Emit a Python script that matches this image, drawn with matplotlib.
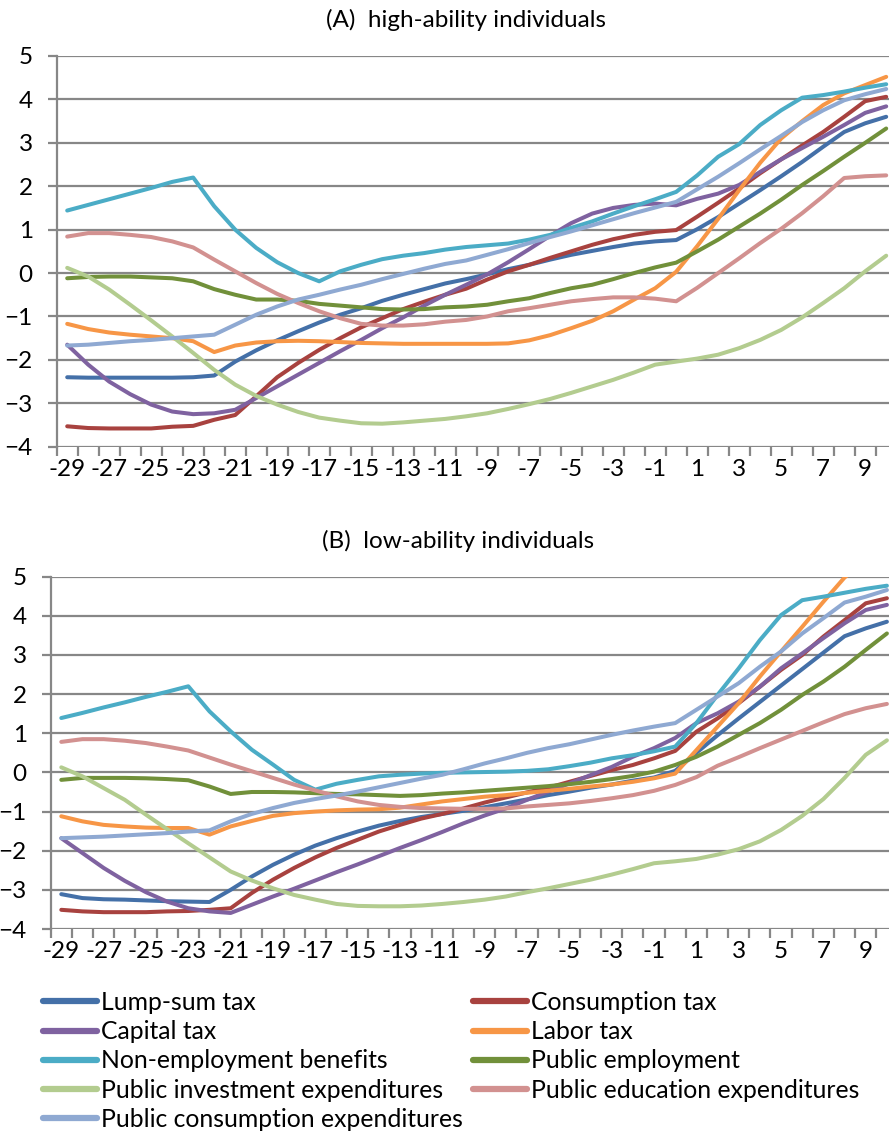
import matplotlib
matplotlib.use("Agg")
import matplotlib.pyplot as plt
import numpy as np

plt.rcParams['font.family'] = ['Lato', 'DejaVu Sans']

years = list(range(-29, 11))
tick_labels = [str(y) for y in years[::2]]

series_names = [
    "Lump-sum tax", "Consumption tax", "Capital tax", "Labor tax",
    "Non-employment benefits", "Public employment",
    "Public investment expenditures", "Public education expenditures",
    "Public consumption expenditures",
]
colors = ["#4470A8", "#A8423F", "#7F62A0", "#F79646", "#4BACC6",
          "#71903A", "#B3CC8F", "#D29190", "#8FA9D2"]

# Panel A: high-ability individuals
high_lump_sum = [-2.40, -2.41, -2.41, -2.41, -2.41, -2.41, -2.40, -2.36, -2.04, -1.78,
                 -1.55, -1.34, -1.14, -0.96, -0.81, -0.64, -0.50, -0.37, -0.24, -0.14,
                 -0.03, 0.09, 0.19, 0.31, 0.42, 0.51, 0.60, 0.68, 0.73, 0.76,
                 1.01, 1.29, 1.60, 1.91, 2.23, 2.56, 2.91, 3.25, 3.45, 3.60]
high_consumption = [-3.53, -3.57, -3.58, -3.58, -3.58, -3.54, -3.52, -3.38, -3.27, -2.84,
                    -2.40, -2.07, -1.77, -1.50, -1.25, -1.04, -0.83, -0.66, -0.50, -0.36,
                    -0.15, 0.04, 0.19, 0.35, 0.50, 0.65, 0.78, 0.88, 0.95, 0.99,
                    1.30, 1.62, 1.95, 2.30, 2.62, 2.94, 3.25, 3.60, 3.96, 4.06]
high_capital = [-1.65, -2.11, -2.50, -2.79, -3.03, -3.19, -3.25, -3.23, -3.15, -2.88,
                -2.61, -2.34, -2.07, -1.80, -1.54, -1.27, -1.02, -0.75, -0.50, -0.27,
                -0.03, 0.25, 0.55, 0.86, 1.15, 1.37, 1.50, 1.57, 1.60, 1.56,
                1.71, 1.83, 2.03, 2.33, 2.62, 2.88, 3.14, 3.41, 3.69, 3.84]
high_labor = [-1.17, -1.29, -1.37, -1.42, -1.46, -1.50, -1.57, -1.82, -1.67, -1.60,
              -1.57, -1.56, -1.57, -1.59, -1.61, -1.62, -1.63, -1.63, -1.63, -1.63,
              -1.63, -1.62, -1.55, -1.43, -1.27, -1.10, -0.88, -0.61, -0.35, 0.03,
              0.62, 1.25, 1.91, 2.54, 3.10, 3.50, 3.87, 4.14, 4.33, 4.52]
high_nonemp = [1.44, 1.57, 1.70, 1.83, 1.96, 2.10, 2.20, 1.54, 1.00, 0.58,
               0.25, 0.00, -0.19, 0.04, 0.19, 0.32, 0.40, 0.46, 0.54, 0.60,
               0.64, 0.68, 0.77, 0.88, 1.04, 1.19, 1.37, 1.54, 1.70, 1.87,
               2.25, 2.68, 2.97, 3.41, 3.75, 4.04, 4.10, 4.18, 4.27, 4.35]
high_pubemp = [-0.12, -0.09, -0.08, -0.08, -0.10, -0.12, -0.19, -0.37, -0.50, -0.61,
               -0.61, -0.64, -0.71, -0.75, -0.79, -0.83, -0.84, -0.83, -0.79, -0.77,
               -0.73, -0.65, -0.58, -0.46, -0.35, -0.27, -0.14, 0.00, 0.13, 0.24,
               0.50, 0.77, 1.07, 1.37, 1.69, 2.03, 2.35, 2.68, 3.00, 3.33]
high_pubinv = [0.12, -0.08, -0.38, -0.73, -1.09, -1.46, -1.84, -2.23, -2.57, -2.83,
               -3.03, -3.20, -3.33, -3.40, -3.46, -3.47, -3.44, -3.40, -3.36, -3.30,
               -3.23, -3.13, -3.02, -2.90, -2.76, -2.61, -2.46, -2.29, -2.11, -2.04,
               -1.97, -1.88, -1.73, -1.54, -1.31, -1.02, -0.69, -0.35, 0.04, 0.40]
high_pubedu = [0.84, 0.92, 0.92, 0.88, 0.83, 0.73, 0.59, 0.31, 0.04, -0.23,
               -0.48, -0.69, -0.88, -1.04, -1.17, -1.21, -1.21, -1.18, -1.12, -1.08,
               -1.00, -0.88, -0.81, -0.73, -0.65, -0.60, -0.56, -0.56, -0.59, -0.65,
               -0.34, 0.00, 0.34, 0.69, 1.02, 1.38, 1.77, 2.19, 2.23, 2.25]
high_pubcons = [-1.67, -1.65, -1.61, -1.57, -1.54, -1.50, -1.46, -1.42, -1.19, -0.96,
                -0.77, -0.61, -0.50, -0.38, -0.27, -0.14, -0.02, 0.10, 0.21, 0.29,
                0.42, 0.55, 0.69, 0.83, 0.96, 1.10, 1.24, 1.38, 1.51, 1.64,
                1.93, 2.22, 2.53, 2.85, 3.16, 3.48, 3.75, 3.98, 4.12, 4.24]

# Panel B: low-ability individuals
low_lump_sum = [-3.11, -3.21, -3.24, -3.25, -3.27, -3.29, -3.30, -3.31, -3.00, -2.66,
                -2.36, -2.10, -1.87, -1.68, -1.51, -1.36, -1.24, -1.14, -1.06, -0.98,
                -0.89, -0.79, -0.69, -0.58, -0.49, -0.39, -0.31, -0.21, -0.13, 0.04,
                0.50, 0.95, 1.38, 1.80, 2.22, 2.64, 3.06, 3.48, 3.68, 3.85]
low_consumption = [-3.51, -3.55, -3.57, -3.57, -3.57, -3.55, -3.54, -3.51, -3.47, -3.08,
                   -2.74, -2.44, -2.17, -1.93, -1.72, -1.51, -1.34, -1.18, -1.06, -0.92,
                   -0.77, -0.64, -0.51, -0.39, -0.24, -0.09, 0.06, 0.19, 0.36, 0.55,
                   1.04, 1.38, 1.77, 2.19, 2.62, 3.00, 3.47, 3.89, 4.32, 4.45]
low_capital = [-1.68, -2.06, -2.44, -2.77, -3.06, -3.30, -3.47, -3.55, -3.59, -3.38,
               -3.17, -2.97, -2.76, -2.55, -2.35, -2.14, -1.93, -1.73, -1.52, -1.30,
               -1.10, -0.92, -0.70, -0.49, -0.28, -0.07, 0.14, 0.40, 0.62, 0.88,
               1.26, 1.51, 1.81, 2.19, 2.66, 3.04, 3.43, 3.81, 4.15, 4.28]
low_labor = [-1.12, -1.25, -1.34, -1.38, -1.41, -1.42, -1.42, -1.59, -1.38, -1.24,
             -1.11, -1.04, -1.00, -0.97, -0.95, -0.94, -0.90, -0.82, -0.74, -0.68,
             -0.62, -0.58, -0.52, -0.47, -0.42, -0.36, -0.31, -0.24, -0.15, -0.03,
             0.57, 1.17, 1.77, 2.45, 3.09, 3.72, 4.36, 4.98, 5.40, 5.80]
low_nonemp = [1.39, 1.52, 1.66, 1.79, 1.93, 2.06, 2.20, 1.56, 1.05, 0.58,
              0.20, -0.19, -0.44, -0.29, -0.19, -0.10, -0.06, -0.03, -0.01, 0.00,
              0.01, 0.02, 0.04, 0.08, 0.16, 0.25, 0.36, 0.44, 0.54, 0.66,
              1.26, 1.98, 2.66, 3.38, 4.02, 4.40, 4.49, 4.59, 4.69, 4.77]
low_pubemp = [-0.19, -0.14, -0.14, -0.14, -0.15, -0.17, -0.20, -0.36, -0.55, -0.50,
              -0.50, -0.51, -0.53, -0.55, -0.56, -0.58, -0.60, -0.58, -0.54, -0.51,
              -0.47, -0.43, -0.39, -0.35, -0.30, -0.24, -0.17, -0.09, 0.02, 0.19,
              0.40, 0.66, 0.96, 1.26, 1.60, 1.98, 2.32, 2.70, 3.13, 3.55]
low_pubinv = [0.13, -0.10, -0.40, -0.70, -1.08, -1.45, -1.81, -2.17, -2.53, -2.76,
              -2.96, -3.13, -3.25, -3.36, -3.41, -3.42, -3.42, -3.40, -3.36, -3.31,
              -3.25, -3.17, -3.06, -2.96, -2.85, -2.74, -2.61, -2.47, -2.32, -2.27,
              -2.21, -2.10, -1.96, -1.76, -1.47, -1.11, -0.68, -0.14, 0.45, 0.82]
low_pubedu = [0.78, 0.85, 0.85, 0.81, 0.75, 0.66, 0.56, 0.38, 0.20, 0.03,
              -0.14, -0.31, -0.46, -0.61, -0.74, -0.83, -0.88, -0.91, -0.92, -0.93,
              -0.93, -0.92, -0.87, -0.83, -0.79, -0.73, -0.66, -0.58, -0.47, -0.32,
              -0.12, 0.17, 0.39, 0.62, 0.84, 1.06, 1.28, 1.49, 1.64, 1.75]
low_pubcons = [-1.68, -1.66, -1.64, -1.61, -1.58, -1.55, -1.51, -1.48, -1.25, -1.06,
               -0.91, -0.78, -0.68, -0.59, -0.49, -0.38, -0.27, -0.16, -0.06, 0.08,
               0.23, 0.36, 0.50, 0.62, 0.72, 0.84, 0.96, 1.07, 1.17, 1.26,
               1.60, 1.94, 2.28, 2.70, 3.09, 3.55, 3.94, 4.34, 4.49, 4.66]

high = [high_lump_sum, high_consumption, high_capital, high_labor, high_nonemp,
        high_pubemp, high_pubinv, high_pubedu, high_pubcons]
low = [low_lump_sum, low_consumption, low_capital, low_labor, low_nonemp,
       low_pubemp, low_pubinv, low_pubedu, low_pubcons]

W, H = 889, 1133
fig = plt.figure(figsize=(W / 100, H / 100), dpi=100)

GRID = "#878787"
FS = 17.5


def setup(ax):
    x = np.arange(len(years))
    ax.set_xlim(-0.5, len(years) - 0.5)
    ax.set_ylim(-4, 5)
    ax.set_yticks(range(-4, 6))
    ax.yaxis.grid(True, color=GRID, linewidth=1.6)
    ax.set_axisbelow(True)
    for s in ["top", "right", "bottom"]:
        ax.spines[s].set_visible(False)
    ax.spines["left"].set_color(GRID)
    ax.spines["left"].set_linewidth(1.6)
    ax.tick_params(axis="y", length=6.3, width=1.6, color=GRID, labelsize=FS,
                   pad=11)
    ax.set_xticks(x[::2])
    ax.set_xticklabels(tick_labels)
    ax.set_xticks(np.arange(-0.5, len(years)), minor=True)
    ax.tick_params(axis="x", which="major", length=0, labelsize=FS, pad=9)
    ax.tick_params(axis="x", which="minor", length=6.3, width=1.6, color=GRID)
    return x


axA = fig.add_axes([56.7 / W, 1 - 446.7 / H, 840 / W, 390.7 / H])
axB = fig.add_axes([50.7 / W, 1 - 929 / H, 846.8 / W, 352.3 / H])

for ax, data in ((axA, high), (axB, low)):
    x = setup(ax)
    for name, vals, c in zip(series_names, data, colors):
        ax.plot(x, vals, color=c, linewidth=2.9, label=name,
                solid_joinstyle="round", solid_capstyle="round")

fig.text(466 / W, 1 - 20 / H, "(A)  high-ability individuals", ha="center",
         va="center", fontsize=FS)
fig.text(458 / W, 1 - 541 / H, "(B)  low-ability individuals", ha="center",
         va="center", fontsize=FS)

handles, labels = axB.get_legend_handles_labels()
order = [0, 2, 4, 6, 8, 1, 3, 5, 7]
leg = fig.legend([handles[i] for i in order], [labels[i] for i in order],
                 ncol=2, loc="upper left", bbox_to_anchor=(43 / W, 1 - 991 / H),
                 frameon=False, fontsize=17.8, handlelength=2.2, handletextpad=0.16,
                 columnspacing=0.4, labelspacing=0.25, borderpad=0,
                 borderaxespad=0)
for line in leg.get_lines():
    line.set_linewidth(4.5)
    line.set_solid_capstyle("round")

fig.savefig("out.png", dpi=100)
